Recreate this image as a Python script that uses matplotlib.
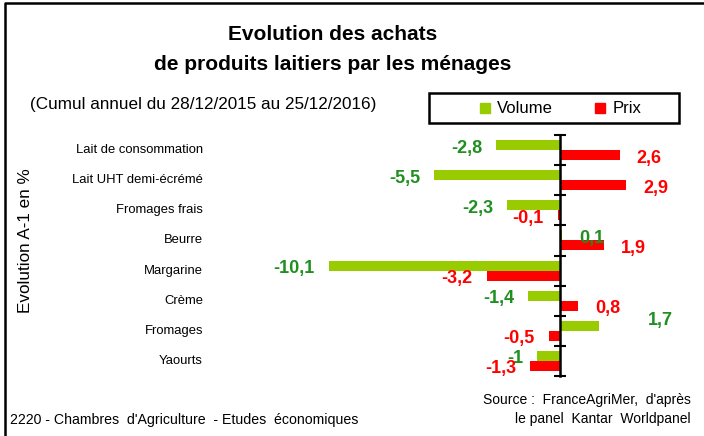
import matplotlib
matplotlib.use('Agg')
import matplotlib.pyplot as plt
import numpy as np
from matplotlib.lines import Line2D
from matplotlib.patches import Rectangle

categories = ['Lait de consommation', 'Lait UHT demi-écrémé', 'Fromages frais', 'Beurre',
              'Margarine', 'Crème', 'Fromages', 'Yaourts']
volume = [-2.8, -5.5, -2.3, 0.1, -10.1, -1.4, 1.7, -1.0]
prix = [2.6, 2.9, -0.1, 1.9, -3.2, 0.8, -0.5, -1.3]
volume_labels = ['-2,8', '-5,5', '-2,3', '0,1', '-10,1', '-1,4', '1,7', '-1']
prix_labels = ['2,6', '2,9', '-0,1', '1,9', '-3,2', '0,8', '-0,5', '-1,3']

W, H = 704, 436
NARROW = ['Liberation Sans Narrow', 'Liberation Sans', 'DejaVu Sans']
GREEN_BAR = '#99cc00'
RED_BAR = '#ff0000'
GREEN_TXT = '#1f8f1f'


def fx(px):
    return px / W


def fy(py):
    return 1 - py / H


fig = plt.figure(figsize=(W / 100, H / 100), dpi=100)
fig.patch.set_facecolor('white')

# plot area: zero line at x=560px, ~22.9 px per unit
x0, ppu = 560, 22.9
xmin, xmax = -15, 6
left_px, right_px = x0 + xmin * ppu, x0 + xmax * ppu
top_px, bot_px = 135, 376
ax = fig.add_axes([fx(left_px), fy(bot_px), (right_px - left_px) / W, (bot_px - top_px) / H])
ax.set_xlim(xmin, xmax)
n = len(categories)
ax.set_ylim(n - 0.5, -0.5)

y = np.arange(n)
h = 0.33
ax.barh(y - h / 2, volume, height=h, color=GREEN_BAR, zorder=2)
ax.barh(y + h / 2, prix, height=h, color=RED_BAR, zorder=2)

for s in ['top', 'right', 'bottom']:
    ax.spines[s].set_visible(False)
ax.spines['left'].set_position(('data', 0))
ax.spines['left'].set_linewidth(1.8)
ax.spines['left'].set_zorder(3)
ax.set_xticks([])
ax.set_yticks(np.arange(-0.5, n, 1))
ax.set_yticklabels([])
ax.tick_params(axis='y', direction='inout', length=8, width=1.5)

lab_x = (203 - left_px) / (right_px - left_px)
for i, c in enumerate(categories):
    ax.text(lab_x, i, c, transform=ax.get_yaxis_transform(),
            ha='right', va='center', fontsize=9.4, family=NARROW)


def put_label(v, yc, txt, color, extra=(0, 0)):
    if v < 0:
        off, ha = -14, 'right'
    else:
        off, ha = 17, 'left'
    ax.annotate(txt, (v, yc), xytext=(off + extra[0], -3 + extra[1]),
                textcoords='offset pixels', ha=ha, va='center', color=color,
                fontsize=13, fontweight='bold', family=NARROW, zorder=4,
                annotation_clip=False)


for i in range(n):
    extra = (32, 8) if categories[i] == 'Fromages' else (0, 0)
    put_label(volume[i], y[i] - h / 2, volume_labels[i], GREEN_TXT, extra)
    put_label(prix[i], y[i] + h / 2, prix_labels[i], RED_BAR)

# titles
fig.text(fx(333), fy(35), 'Evolution des achats', ha='center', va='center',
         fontsize=15, fontweight='bold', family=NARROW)
fig.text(fx(333), fy(65), 'de produits laitiers par les ménages', ha='center', va='center',
         fontsize=15, fontweight='bold', family=NARROW)
fig.text(fx(30), fy(104), '(Cumul annuel du 28/12/2015 au 25/12/2016)', ha='left', va='center',
         fontsize=12.3, family=NARROW)
fig.text(fx(25), fy(241), 'Evolution A-1 en %', rotation=90, ha='center', va='center',
         fontsize=12.3, family=NARROW)

# legend box
fig.add_artist(Rectangle((fx(429), fy(123)), fx(679) - fx(429), fy(93) - fy(123),
                         transform=fig.transFigure, fill=False, edgecolor='black', linewidth=1.8))
fig.add_artist(Rectangle((fx(480), fy(113)), fx(10), fy(103) - fy(113),
                         transform=fig.transFigure, color=GREEN_BAR))
fig.text(fx(497), fy(108), 'Volume', ha='left', va='center', fontsize=12, family=NARROW)
fig.add_artist(Rectangle((fx(595), fy(113)), fx(10), fy(103) - fy(113),
                         transform=fig.transFigure, color=RED_BAR))
fig.text(fx(613), fy(108), 'Prix', ha='left', va='center', fontsize=12, family=NARROW)

# footer
fig.text(fx(10), fy(420), "2220 - Chambres  d'Agriculture  - Etudes  économiques", ha='left',
         va='center', fontsize=10.2, family=NARROW)
fig.text(fx(691), fy(400), "Source :  FranceAgriMer,  d'après", ha='right', va='center',
         fontsize=10, family=NARROW)
fig.text(fx(691), fy(419), 'le panel  Kantar  Worldpanel', ha='right', va='center',
         fontsize=10, family=NARROW)

# outer frame (left and top edges visible)
fig.add_artist(Line2D([fx(5), fx(5), fx(704)], [fy(436), fy(3), fy(3)],
                      transform=fig.transFigure, color='black', linewidth=1.8))

fig.savefig('out.png', dpi=100)
